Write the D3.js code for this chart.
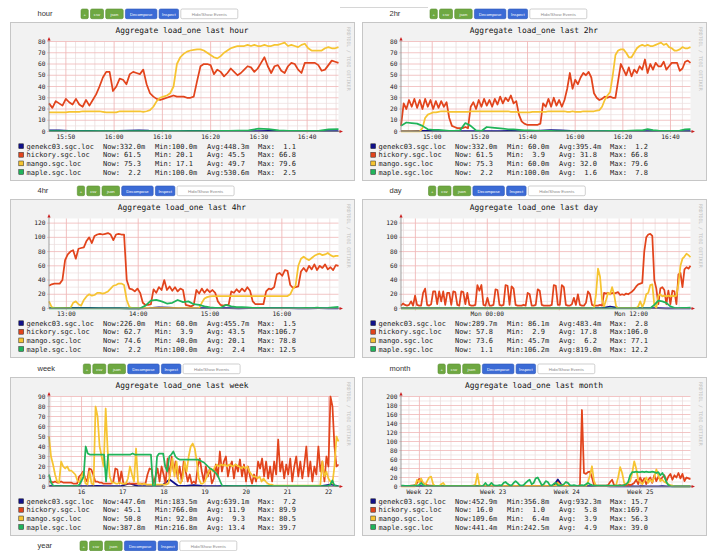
<!DOCTYPE html>
<html><head><meta charset="utf-8">
<script src="https://cdn.jsdelivr.net/npm/d3@7"></script>
<style>
html,body{margin:0;padding:0;background:#fff;overflow:hidden;}
svg{display:block;}
text{white-space:pre;}
</style></head><body>
<svg id="c" width="708" height="551"></svg>
<script>
// ---------------- DATA ----------------
const hostNames = ["genekc03.sgc.loc","hickory.sgc.loc","mango.sgc.loc","maple.sgc.loc"];
const hostColors = ["#10108a","#e2441c","#f6c431","#20b45a"];

// hour (x = minutes of day, 15:46.5 .. 16:46.5)
const hourTicks = [950,960,970,980,990,1000];
const hourTickLabels = ["15:50","16:00","16:10","16:20","16:30","16:40"];
const genekcHour = [1.0,0.9,0.6,0.5,0.5,0.4,0.4,0.5,0.8,1.1,0.7,0.5,0.4,0.4,0.5,0.5,0.4,0.4,0.5,0.5,0.4,0.4,0.5,0.6,0.5,0.4,0.4,0.5,0.4,0.3];
const hickoryHour = [25,21,27,25,23,29,26,24,29,24,22,28,23,28,33,40,48,53,53,36,40,47,46,42,51,53,52,51,55,42,34,31,29,28,29,30,31,32,31,31,31,30,30,31,45,58,60,60,59,51,55,53,49,52,56,53,50,52,55,58,57,53,56,61,66,58,52,58,59,54,52,58,61,60,55,52,61,61,61,61,59,54,55,59,63,62,61];
const mangoHour = [17,17,17,17,17,17,17.5,17.5,17.5,17.5,18,18,18,18,18,18,17.5,17,17,17,17,18,18,18,18,18,18,18,17.5,18,19,22,27,30,31,32,34,40,60,66,69,71,72,72.5,73,73,72,70,68,66,65,67,70,72,74,75,76,76,76,77,76,77,76,76,77,76,76,77,77,78,79,76,77,76,75,77,78,74,72,72,72,72,74,75,74,74,75];
const mapleHour = [0.3,0.3,0.4,0.3,0.3,0.4,0.3,0.3,0.3,0.4,0.3,0.3,0.4,0.3,0.3,0.3,0.4,0.5,0.6,0.8,1.0,2.5,2.2,1.0,0.6,0.5,0.5,0.6,1.8,2.2];
const statsHour = [["332.0m","100.0m","448.3m","1.1"],["61.5","20.1","45.5","66.8"],["75.3","17.1","49.7","79.6"],["2.2","100.0m","530.6m","2.5"]];

// 2hr
const twoHrTicks = [900,920,940,960,980,1000];
const twoHrTickLabels = ["15:00","15:20","15:40","16:00","16:20","16:40"];
const genekc2hr = [0.3,0.4,0.6,0.5,0.4,0.3,0.3,0.4,0.3,0.3,0.4,0.5,0.4,0.3,0.8,1.2,1.0,0.5,0.4,0.3,0.3,0.4,0.5,0.6,0.4,0.3,0.3,0.4,0.4,0.3];
const hickory2hr = [5,25,20,28,22,29,21,28,20,29,22,28,20,27,21,27,22,26,12,5,4,3,3,3,4,3,22,26,20,28,22,29,23,28,22,29,24,31,25,30,27,32,25,27,15,9,7,6,6,6,6,6,7,25,22,29,22,30,23,28,22,28,38,52,38,46,42,48,52,50,53,48,34,30,28,29,31,30,31,30,30,45,60,55,50,57,49,55,52,58,55,64,52,60,55,61,58,58,62,55,58,61,61,61,54,56,62,63,61];
const mango2hr = [0.1,0.1,0.1,0.1,0.1,0.1,0.1,0.1,3,12,15,16,17,17,17.5,18,18,18,17.5,17.5,17.5,17.5,17.5,17.5,17.5,17.5,18,18,18,18,18,18,18,18,18,18,18,18,18,18,18,17.5,17.5,17.5,17,17,17,17,17,17.5,17.5,17.5,17.5,17.5,17.5,18,18,18,18,18,18,18,17.5,17.5,18,17.5,17.5,17.5,18,18,18,18,18,18.5,19,22,28,32,35,50,68,72,73,73,70,66,66,70,74,76,77,76,77,76,76,77,78,79,77,78,75,74,72,72,73,75,74,74,75];
const maple2hr = [5,8,7.5,7,5,2,1.5,1.5,1,0.5,0.5,1,7.5,5,1,0.5,4,3.5,3,2.5,2,2,1.5,1,1,0.8,0.6,0.5,0.5,0.4,0.4,0.4,0.4,0.4,0.4,0.4,0.4,0.4,0.4,0.5,0.5,0.5,0.6,0.8,1,1,2.2,1.2,0.8,0.6,0.5,0.5,0.8,1.8,2.2];
const stats2hr = [["332.0m","60.0m","395.4m","1.2"],["61.5","3.9","31.8","66.8"],["75.3","60.0m","32.0","79.6"],["2.2","100.0m","1.6","7.8"]];

// 4hr
const fourHrTicks = [780,840,900,960];
const fourHrTickLabels = ["13:00","14:00","15:00","16:00"];
const genekc4hr = [0.5,0.6,0.8,1.0,0.8,0.6,0.5,0.4,0.3,0.3,0.6,1.5,1.2,0.6,0.4,0.4,0.4,0.5,0.4,0.3,0.5,0.4,0.4,0.5,0.4,0.3,0.3,0.4,0.3,0.2];
const hickory4hr = [32,34,35,35,35,40,68,76,80,82,70,84,85,86,95,100,92,102,104,105,104,105,106,104,96,104,105,104,104,40,28,27,24,28,22,8,5,5,6,27,22,30,26,40,26,31,25,30,24,28,26,5,4,3,5,26,21,28,22,27,23,26,22,10,5,4,5,5,24,22,27,23,28,24,30,25,10,6,6,6,6,24,28,27,30,48,50,46,54,53,33,29,30,31,52,57,52,60,55,62,54,60,57,62,55,58,54,61,60];
const mango4hr = [10,2,0.5,0.5,0.5,0.5,0.5,0.5,0.5,8,10,6,4,12,17,20,18,19,22,22,21,22,24,28,32,33,35,35,33,12,2,0.5,0.5,0.5,0.5,0.5,0.5,0.5,0.5,0.5,0.5,0.5,0.5,0.5,0.5,0.5,0.5,0.5,0.5,0.5,0.5,0.5,0.5,0.5,0.5,0.5,0.5,8,14,16,17,17.5,17.5,17.5,17.5,17.5,17.5,17.5,17.5,17.5,17.5,17.5,17.5,17.5,17.5,17.5,17.5,17.5,17.5,17.5,17.5,17.5,17.5,17.5,17.5,17.5,17.5,17.5,17.5,17.5,20,28,32,60,70,73,70,68,71,74,76,77,75,76,78,75,73,74,74];
const maple4hr = [0.3,0.3,0.3,0.3,0.3,0.3,0.3,0.3,0.3,0.3,0.3,0.3,0.3,0.3,0.3,0.3,0.3,0.3,4,11,12,10,7,8,12,9,10,6,5,3,1.5,1,1,5,3,2,2,1.5,1,0.8,0.5,0.4,0.4,0.4,0.4,0.5,0.5,0.5,0.8,0.6,1.2,0.6,0.8,1.5,2.2];
const stats4hr = [["226.0m","60.0m","455.7m","1.5"],["62.7","3.9","43.5","106.7"],["74.6","40.0m","20.1","78.8"],["2.2","100.0m","2.4","12.5"]];

// day (x = hours relative to Mon 00:00)
const dayTicks = [0,12];
const dayTickLabels = ["Mon 00:00","Mon 12:00"];
const genekcDay = [0.5,0.4,0.4,0.5,0.4,0.4,0.5,0.4,0.4,0.5,0.4,0.4,0.5,0.4,0.4,0.5,0.4,0.4,0.5,0.4,0.4,0.5,0.6,0.5,0.4,0.6,2.8,0.8,0.5,0.4,0.4,0.5,0.4,0.3,0.3,0.3,0.3];
const hickoryDay = [4,7,5,4,5,10,4,18,5,4,4,22,28,5,4,6,24,24,6,24,10,24,5,22,22,5,24,23,5,4,24,23,6,22,5,4,4,5,33,25,33,5,4,15,4,4,5,27,26,5,4,5,33,32,5,31,28,5,4,4,4,5,4,22,20,4,4,5,27,25,5,4,4,4,4,5,33,32,5,5,33,30,5,4,4,6,15,5,20,5,4,4,8,24,20,5,4,4,4,5,4,22,21,22,20,22,21,22,23,19,20,19,21,20,22,24,27,31,34,35,36,80,100,104,105,102,40,28,6,28,30,26,6,25,6,25,24,6,48,50,30,55,58,56,60];
const mangoDay = [0.3,0.3,0.3,0.3,0.3,0.3,0.3,0.3,0.3,0.3,0.3,0.3,0.3,0.3,0.3,0.3,0.3,0.3,0.3,0.3,0.3,0.3,0.3,0.3,0.3,0.3,0.3,0.3,0.3,0.3,0.3,0.3,0.3,0.3,0.3,0.3,0.3,0.3,0.3,0.3,0.3,0.3,0.3,0.3,0.3,0.3,0.3,0.3,0.3,0.3,0.3,0.3,0.3,0.3,0.3,0.3,0.3,0.3,0.3,0.3,0.3,0.3,0.3,0.3,0.3,0.3,0.3,0.3,0.3,0.3,0.3,0.3,0.3,0.3,0.3,0.3,0.3,0.3,0.3,0.3,0.3,0.3,0.3,0.3,0.3,0.3,0.3,0.3,0.3,0.3,0.3,0.3,0.3,0.3,0.3,0.3,1,20,56,45,12,3,12,22,20,30,20,3,0.5,0.5,0.5,0.5,0.5,0.5,0.5,0.5,0.5,0.5,3,10,2,8,20,22,33,34,5,0.5,18,20,17,18,17,18,17,18,17,18,35,60,70,73,77,75,72];
const mapleDay = [0.3,0.3,0.3,0.3,0.3,0.3,0.3,0.3,0.3,0.3,0.3,0.3,0.3,0.3,0.3,0.3,0.3,0.3,0.3,0.3,0.3,0.3,0.3,0.3,0.3,0.3,0.3,0.3,0.3,0.3,0.3,0.3,0.3,0.3,0.3,0.3,0.3,0.3,0.3,0.3,0.3,0.3,0.3,0.3,0.3,0.3,0.3,0.3,0.3,0.3,0.3,0.3,0.3,0.3,0.3,0.3,0.3,0.3,0.3,0.3,0.3,0.3,0.3,5,11,10,8,3,1,0.6,0.8,1,1.1];
const statsDay = [["289.7m","86.1m","483.4m","2.8"],["57.8","2.9","17.8","106.0"],["73.6","45.7m","6.2","77.1"],["1.1","106.2m","819.0m","12.2"]];

// week (x = day of month)
const weekTicks = [16,17,18,19,20,21,22];
const weekTickLabels = ["16","17","18","19","20","21","22"];
const genekcWeek = [0.5,0.6,0.5,0.5,0.4,0.5,0.6,0.5,0.5,0.6,3,0.6,0.5,0.5,0.6,7,1,0.6,1.5,0.6,0.5,0.5,0.6,0.5,0.5,0.6,0.5,0.5,0.6,0.5,0.5,0.6,0.5,0.5,0.6,2,0.5];
const hickoryWeek = [5,5,4,5,4,4,5,4,4,4,4,4,3,3,3,10,12,15,8,5,18,17,12,5,5,4,4,3,3,3,3,3,5,18,17,3,15,3,3,3,3,3,3,3,3,3,3,3,3,12,18,17,3,10,18,5,20,12,3,28,10,30,15,25,8,20,5,25,15,5,12,3,5,3,20,28,15,5,20,10,18,3,8,22,10,35,15,25,30,10,20,25,8,22,15,27,10,22,5,20,10,3,12,5,25,18,28,10,25,8,20,5,25,12,47,15,25,8,22,12,28,5,20,30,10,25,8,22,40,10,25,5,20,12,40,15,25,5,30,20,90,80,40,20,22];
const mangoWeek = [50,30,22,12,5,4,25,20,18,20,16,16,14,12,6,4,10,14,3,2,15,3,2,80,70,40,30,20,78,35,10,4,4,3,3,4,3,3,3,8,20,12,5,38,3,3,2,3,2,2,2,2,2,2,2,2,2,2,2,3,15,28,10,25,5,3,8,25,15,30,40,43,38,25,8,3,3,5,10,15,18,15,20,22,20,22,21,22,20,22,21,20,22,21,20,18,20,18,20,15,12,10,10,8,10,5,8,5,3,2,2,1,1,1,1,1,1,1,1,1,1,1,1,1,1,1,1,1,1,1,1,1,1,1,1,25,10,15,8,5,3,20,50,45];
const mapleWeek = [12,4,1,0.5,0.5,0.5,0.5,0.5,0.5,0.5,0.5,0.5,0.5,0.5,0.5,2,6,10,40,33,32,32,32,32,32,32,32,32,5,32,32,32,32,32,32,32,32,32,32,32,32,33,32,32,32,32,32,32,32,32,32,0.5,0.5,30,33,33,33,20,15,30,32,35,30,28,27,27,27,27,27,27,27,27,27,27,26,25,24,22,20,18,17,15,13,10,5,0.5,0.5,0.5,0.5,0.5,0.5,0.5,0.5,0.5,0.5,0.5,0.5,0.5,0.5,0.5,0.5,0.5,0.5,0.5,0.5,0.5,0.5,0.5,0.5,0.5,0.5,0.5,0.5,0.5,0.5,0.5,0.5,0.5,0.5,0.5,0.5,0.5,0.5,0.5,0.5,0.5,0.5,0.5,0.5,0.5,0.5,0.5,0.5,0.5,0.5,0.5,0.5,0.5,2,6,1,0.5,0.5];
const statsWeek = [["447.6m","183.5m","639.1m","7.2"],["45.1","766.0m","11.9","89.9"],["50.8","92.8m","9.3","80.5"],["387.8m","216.8m","13.4","39.7"]];

// month (x = week number)
const monthTicks = [22,23,24,25];
const monthTickLabels = ["Week 22","Week 23","Week 24","Week 25"];
const genekcMonth = [1,1,0.8,0.8,0.9,1,0.8,0.8,0.7,0.8,0.8,0.7,0.8,0.8,0.7,0.8,0.8,0.7,0.8,0.8,0.7,0.8,0.8,0.9,1,0.9,0.8,1,0.9,0.8,1,1.2,1,0.9,1,1.2,1,1.3,2,15.7,2,1,0.9,0.8,0.7,0.7,0.6,0.6,0.7,0.6,0.6,0.6,0.5,0.5,0.6,0.5,0.5,0.6,0.5,0.5,0.6,0.5,0.5,0.5,0.5,0.6,0.5,0.5,0.5,0.4,0.5,0.5,0.45];
const hickoryMonth = [1,1,1,1,1,2,2,3,8,17,12,8,5,3,2,2,1.5,1.5,1,1,1,1,1,1,1,1,1,1,1,1,1,1,1,1,1,1,2,2,1,1,1,1,1,1,1,1,1,1,1,1,1,1,1,1,1,1,1,1,1,1,1,1,1,1,1,1,1,1,1,1,1,1,1,1,1,1,1,3,10,5,3,2,1.5,1.5,1.5,1.5,1.5,1.5,1.5,3,170,30,28,32,33,20,3,2,2,2,2,2,2,3,10,15,3,2,2,3,2,3,2,5,3,5,8,15,5,20,10,18,5,15,20,8,25,12,22,15,20,25,12,22,28,15,25,20,30,18,28,12,20,18,16];
const mangoMonth = [0.5,0.5,0.5,0.5,0.5,0.5,0.5,0.5,15,10,18,8,3,12,20,22,5,1,1,1,5,8,1,1,1,1,1,1,1,1,1,1,1,1,1,1,1,5,28,3,1,1,1,1,1,1,1,1,1,1,1,1,1,1,1,1,1,1,1,1,1,1,1,1,1,1,1,1,1,1,1,1,1,1,1,1,1,2,8,3,1,1,1,1,1,1,1,1,1,1,1,1,1,10,25,45,12,2,1,1,1,1,1,1,1,1,1,3,20,43,30,8,5,8,12,30,56,40,15,10,5,12,20,8,15,10,20,38,25,12,15,10,8,5,3,2,0.5,0.5,0.5,0.5,0.5,0.5,0.5,0.3,0.1];
const mapleMonth = [2,2,1.5,1.5,1.5,1.5,2,2,2,3,8,3,1,1,1,1,1,1,1,1,1,1,1,1,1,1,1,1,1,1,1,1,1,1,1,1,1,1,1,1,1,2,8,2,3,8,3,2,2,3,2,8,10,6,3,2,8,12,8,3,2,3,8,12,15,5,8,18,20,12,3,5,12,10,3,2,6,8,3,2,3,5,10,8,3,2,3,2,1,2,3,2,5,8,5,3,2,2,2,2,2,2,2,2,2,2,2,2,2,2,2,3,5,10,25,32,32,33,32,32,33,32,33,32,32,33,32,30,32,25,30,22,10,3,1,0.5,0.5,0.5,0.5,0.5,0.5,0.5,0.5,0.5,0.5];
const statsMonth = [["452.9m","356.8m","932.3m","15.7"],["16.0","1.0","5.8","169.7"],["109.6m","6.4m","3.9","56.3"],["441.4m","242.5m","4.9","39.0"]];

const buttonLabels = ["+","csv","json","Decompose","Inspect","Hide/Show Events"];

// ---------------- LAYOUT / CONFIG ----------------
const colX = [10, 362];
const rowY = [22, 199, 377];
const boxW = 344, boxH = 158;
const btnW = [7.3, 13, 17.5, 31.5, 19.5, 57];
const btnFill = ["#6ea841","#6ea841","#6ea841","#3b6bd6","#3b6bd6","#ffffff"];
const btnStroke = ["#5a8f33","#5a8f33","#5a8f33","#2c56b5","#2c56b5","#b0b0b0"];

const panels = [
  {label:"hour", title:"Aggregate load_one last hour", col:0,row:0, xd:[946.5,1006.5], ticks:hourTicks, tickLabels:hourTickLabels, xMinor:2, xMajor:10, yMax:80, yStep:10, yMinor:5, series:[genekcHour,hickoryHour,mangoHour,mapleHour], stats:statsHour, btn:81},
  {label:"2hr", title:"Aggregate load_one last 2hr", col:1,row:0, xd:[886.9,1008.4], ticks:twoHrTicks, tickLabels:twoHrTickLabels, xMinor:5, xMajor:20, yMax:80, yStep:10, yMinor:5, series:[genekc2hr,hickory2hr,mango2hr,maple2hr], stats:stats2hr, btn:430},
  {label:"4hr", title:"Aggregate load_one last 4hr", col:0,row:1, xd:[765.5,1007.3], ticks:fourHrTicks, tickLabels:fourHrTickLabels, xMinor:10, xMajor:60, yMax:126.5, yStep:20, yMinor:10, series:[genekc4hr,hickory4hr,mango4hr,maple4hr], stats:stats4hr, btn:77.3},
  {label:"day", title:"Aggregate load_one last day", col:1,row:1, xd:[-7.2,16.95], ticks:dayTicks, tickLabels:dayTickLabels, xMinor:1, xMajor:6, yMax:126.5, yStep:20, yMinor:10, series:[genekcDay,hickoryDay,mangoDay,mapleDay], stats:statsDay, btn:428.5},
  {label:"week", title:"Aggregate load_one last week", col:0,row:2, xd:[15.21,22.24], ticks:weekTicks, tickLabels:weekTickLabels, xMinor:0.25, xMajor:1, yMax:90, yStep:10, yMinor:5, series:[genekcWeek,hickoryWeek,mangoWeek,mapleWeek], stats:statsWeek, btn:83.3},
  {label:"month", title:"Aggregate load_one last month", col:1,row:2, xd:[21.75,25.68], ticks:monthTicks, tickLabels:monthTickLabels, xMinor:1/7, xMajor:1, yMax:200, yStep:20, yMinor:10, series:[genekcMonth,hickoryMonth,mangoMonth,mapleMonth], stats:statsMonth, btn:438}
];

const MONO = "'DejaVu Sans Mono', monospace";
const SANS = "'Liberation Sans', Arial, sans-serif";
const svg = d3.select("#c");

svg.append("line").attr("x1",340).attr("x2",428).attr("y1",7.5).attr("y2",7.5).attr("stroke","#d6d6d6");

function fmt(s){ return s.endsWith("m") ? s.slice(0,-1).padStart(5)+"m" : s.padStart(5); }

function header(label, bx, by, btnStart){
  svg.append("text").attr("x", bx+27.5).attr("y", by-6).attr("font-family",SANS)
    .attr("font-size",7.5).attr("fill","#333").text(label);
  let x = btnStart;
  buttonLabels.forEach((b,i)=>{
    const w = btnW[i];
    svg.append("rect").attr("x",x).attr("y",by-13).attr("width",w).attr("height",9.7)
      .attr("rx",1.5).attr("fill",btnFill[i]).attr("stroke",btnStroke[i]).attr("stroke-width",0.6);
    svg.append("text").attr("x",x+w/2).attr("y",by-6.5).attr("text-anchor","middle")
      .attr("font-family",SANS).attr("font-size", i===5?4.3:4.2)
      .attr("fill", i===5?"#8a8a8a":"#fff").text(b);
    x += w + 2.2;
  });
}

function gridVals(d0,d1,step){
  const out=[]; const k0=Math.ceil(d0/step-1e-9), k1=Math.floor(d1/step+1e-9);
  for(let k=k0;k<=k1;k++) out.push(k*step);
  return out;
}

panels.forEach(p=>{
  const bx = colX[p.col], by = rowY[p.row];
  header(p.label, bx, by, p.btn);
  const g = svg.append("g");
  g.append("rect").attr("x",bx+0.5).attr("y",by+0.5).attr("width",boxW).attr("height",boxH)
    .attr("fill","#f2f2f2").attr("stroke","#c6c6c6");
  g.append("text").attr("x",bx+172).attr("y",by+11).attr("text-anchor","middle")
    .attr("font-family",MONO).attr("font-size",7.9).attr("fill","#111").text(p.title);
  g.append("text").attr("transform",`translate(${bx+337.3},${by+5}) rotate(90)`)
    .attr("font-family",MONO).attr("font-size",4.8).attr("fill","#c2c2c2").text("RRDTOOL / TOBI OETIKER");

  const x0 = bx+39, x1 = bx+328.5, yT = by+19.5, yB = by+109.5;
  const x = d3.scaleLinear().domain(p.xd).range([x0,x1]);
  const y = d3.scaleLinear().domain([0,p.yMax]).range([yB,yT]);

  g.append("rect").attr("x",x0).attr("y",yT).attr("width",x1-x0).attr("height",yB-yT).attr("fill","#fff");

  // minor grid
  const majX = gridVals(p.xd[0],p.xd[1],p.xMajor);
  const isMajX = v => majX.some(m=>Math.abs(m-v)<1e-6);
  gridVals(p.xd[0],p.xd[1],p.xMinor).filter(v=>!isMajX(v)).forEach(v=>{
    g.append("line").attr("x1",x(v)).attr("x2",x(v)).attr("y1",yT).attr("y2",yB)
      .attr("stroke","#e8d8d8").attr("stroke-width",0.7);
  });
  const majY = d3.range(0,p.yMax+1e-6,p.yStep);
  gridVals(0,p.yMax,p.yMinor).filter(v=>!majY.some(m=>Math.abs(m-v)<1e-6)).forEach(v=>{
    g.append("line").attr("x1",x0).attr("x2",x1).attr("y1",y(v)).attr("y2",y(v))
      .attr("stroke","#ecdede").attr("stroke-width",0.7);
  });
  // major grid
  majX.forEach(v=>{
    g.append("line").attr("x1",x(v)).attr("x2",x(v)).attr("y1",yT).attr("y2",yB+2)
      .attr("stroke","#efb0b0").attr("stroke-width",0.8);
  });
  majY.forEach(v=>{
    g.append("line").attr("x1",x0-2).attr("x2",x1).attr("y1",y(v)).attr("y2",y(v))
      .attr("stroke","#f0b8b8").attr("stroke-width",0.8);
    g.append("text").attr("x",x0-3.5).attr("y",y(v)+2.1).attr("text-anchor","end")
      .attr("font-family",MONO).attr("font-size",6.2).attr("fill","#222").text(d3.format("d")(v));
  });
  p.ticks.forEach((t,i)=>{
    g.append("text").attr("x",x(t)).attr("y",yB+7.3).attr("text-anchor","middle")
      .attr("font-family",MONO).attr("font-size",6.2).attr("fill","#222").text(p.tickLabels[i]);
  });

  // series
  p.series.forEach((arr,si)=>{
    const n = arr.length;
    const line = d3.line()
      .x((d,i)=>x(p.xd[0] + i*(p.xd[1]-p.xd[0])/(n-1)))
      .y(d=>y(d));
    g.append("path").datum(arr).attr("d",line).attr("fill","none")
      .attr("stroke",hostColors[si]).attr("stroke-width",1.75).attr("stroke-linejoin","round");
  });

  // axes
  g.append("line").attr("x1",x0).attr("x2",x0).attr("y1",yB).attr("y2",yT-2).attr("stroke","#888").attr("stroke-width",0.8);
  g.append("line").attr("x1",x0).attr("x2",x1+2).attr("y1",yB).attr("y2",yB).attr("stroke","#888").attr("stroke-width",0.8);
  g.append("path").attr("d",`M${x0-1.6},${yT-1} L${x0+1.6},${yT-1} L${x0},${yT-4.5} Z`).attr("fill","#cc2020");
  g.append("path").attr("d",`M${x1+1},${yB-1.6} L${x1+1},${yB+1.6} L${x1+4.5},${yB} Z`).attr("fill","#cc2020");

  // legend
  p.stats.forEach((s,i)=>{
    const cy = by+124.3+i*8.6;
    g.append("rect").attr("x",bx+8.8).attr("y",cy-2.5).attr("width",4.8).attr("height",4.8)
      .attr("fill",hostColors[i]).attr("stroke","#222").attr("stroke-width",0.5);
    const ty = cy+2.4;
    const cols = [[16.5,hostNames[i]],[93,"Now:"+fmt(s[0])],[145,"Min:"+fmt(s[1])],[197,"Avg:"+fmt(s[2])],[248,"Max:"+fmt(s[3])]];
    cols.forEach(c=>{
      g.append("text").attr("x",bx+c[0]).attr("y",ty).attr("font-family",MONO)
        .attr("font-size",7).attr("fill","#222").text(c[1]);
    });
  });
});

header("year", 10, 554, 80);
</script>
</body></html>
